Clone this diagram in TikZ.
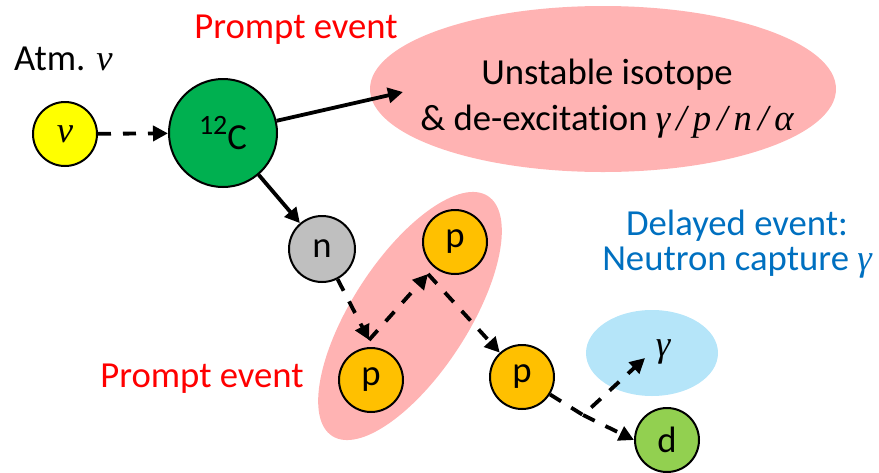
\documentclass[tikz,border=0pt]{standalone}
\usepackage{fontspec}
\setmainfont{Carlito}[Ligatures=NoCommon]
\newfontfamily\symfont{Liberation Serif}
\newcommand{\sym}[1]{{\symfont\itshape #1}}
\usetikzlibrary{arrows.meta,shapes.geometric}

\definecolor{nuyellow}{HTML}{FFFF00}
\definecolor{carbongreen}{HTML}{00B050}
\definecolor{neutrongray}{HTML}{BFBFBF}
\definecolor{protonorange}{HTML}{FFC000}
\definecolor{deuterongreen}{HTML}{92D050}
\definecolor{promptpink}{HTML}{FFB3B3}
\definecolor{delayblue}{HTML}{B5E5F9}
\definecolor{promptred}{HTML}{FF0000}
\definecolor{delaytext}{HTML}{0070C0}

\begin{document}
\begin{tikzpicture}[x=0.5pt,y=-0.5pt,
  every node/.style={font=\fontsize{18.35}{22}\selectfont},
  particle/.style={circle,draw=black,line width=1pt,minimum size=32pt,inner sep=0pt},
  blob/.style={ellipse,inner sep=0pt},
  flow/.style={line width=1.9pt,-{Triangle[length=7.5pt,width=7.5pt]}},
  hop/.style={flow,dash pattern=on 6.5pt off 6pt},
  prompt/.style={text=promptred,anchor=base,inner sep=0pt},
  delayed/.style={text=delaytext,anchor=base,inner sep=0pt},
  plain/.style={anchor=base,inner sep=0pt}]

\useasboundingbox (0,0) rectangle (879,472);

% shaded regions behind the particles
\node[blob,fill=promptpink,minimum width=233pt,minimum height=83pt] (iso) at (603,89) {};
\node[blob,fill=promptpink,minimum width=143pt,minimum height=58pt,rotate=57] (zone) at (410,316) {};
\node[blob,fill=delayblue,minimum width=66pt,minimum height=43pt] (gz) at (652,353) {};

% particles
\node[particle,fill=nuyellow] (nu) at (65,134) {\sym{ν}};
\node[particle,fill=carbongreen,minimum size=54pt] (C12) at (223,133)
  {\raisebox{7.5pt}{\fontsize{14}{14}\selectfont 12}C};
\node[particle,fill=neutrongray,minimum size=33pt] (n) at (322,249) {n};
\node[particle,fill=protonorange] (p1) at (455,242) {p};
\node[particle,fill=protonorange] (p2) at (371,380) {p};
\node[particle,fill=protonorange] (p3) at (522,377) {p};
\node[particle,fill=deuterongreen] (d) at (667,440) {d};

% labels
\node[plain] (atm) at (63.5,70) {Atm. \sym{ν}};
\node[prompt] (prompttop) at (296,38) {Prompt event};
\node[prompt] (promptbot) at (202,387) {Prompt event};
\node[plain] (iso1) at (607,84) {Unstable isotope};
\node[plain] (iso2) at (607,130) {\& de-excitation \sym{γ\,/\,p\,/\,n\,/\,α}};
\node[delayed] (del1) at (737,235) {Delayed event:};
\node[delayed] (del2) at (737,270) {Neutron capture \sym{γ}};
\node[inner sep=0pt] (gam) at (663,352) {\sym{γ}};

% turning points of the particle tracks
\coordinate (isoin) at (403,92);
\coordinate (v1) at (369,340);
\coordinate (v2) at (428,274);
\coordinate (v3) at (583,415);
\coordinate (gtip) at (645,358);

% tracks
\draw[hop] (nu) -- (C12);
\draw[flow] (C12) -- (isoin);
\draw[flow] (C12) -- (n);
\draw[hop] (n) -- (v1);
\draw[hop] (v1) -- (v2);
\draw[hop] (v2) -- (p3);
\draw[hop] (p3) -- (v3) -- (gtip);
\draw[hop] (v3) -- (d.west);
\end{tikzpicture}
\end{document}
